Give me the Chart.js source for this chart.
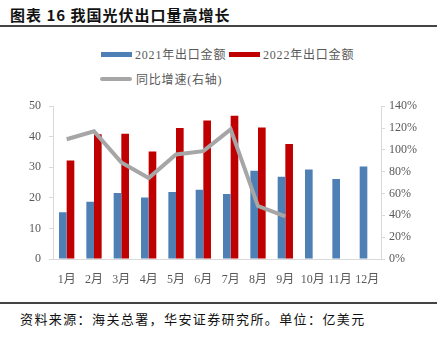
<!DOCTYPE html>
<html>
<head>
<meta charset="utf-8">
<script src="https://cdn.jsdelivr.net/npm/chart.js@4.4.1/dist/chart.umd.min.js"></script>
<style>
  body { margin: 0; width: 437px; height: 338px; background: #fff; position: relative; overflow: hidden;
         font-family: 'Liberation Serif', 'Noto Sans CJK SC', serif; }
  #title { position: absolute; left: 10px; top: 4px; font-size: 15px; font-weight: bold; color: #111;
           font-family: 'Noto Sans CJK SC', sans-serif; letter-spacing: 1px; }
  #topline { position: absolute; left: 0; top: 25px; width: 437px; height: 2px; background: #444; }
  #botline { position: absolute; left: 0; top: 302px; width: 437px; height: 2px; background: #444; }
  #source { position: absolute; left: 20px; top: 309px; font-size: 13px; color: #111; letter-spacing: 1.4px;
            font-family: 'Noto Sans CJK SC', sans-serif; }
  .leg { position: absolute; font-size: 12px; color: #595959; display: flex; align-items: center; letter-spacing: 0.8px; }
  .sw { display: inline-block; width: 31px; height: 5px; margin-right: 3px; }
  .ln { display: inline-block; width: 32px; height: 4px; border-radius: 2px; margin-right: 4px; }
  #wrap { position: absolute; left: 0; top: 91px; width: 437px; height: 199px; }
</style>
</head>
<body>
<div id="title">图表 16 我国光伏出口量高增长</div>
<div id="topline"></div>
<div class="leg" style="left:101px; top:45px;"><span class="sw" style="background:#4E80B6"></span>2021年出口金额</div>
<div class="leg" style="left:229px; top:45px;"><span class="sw" style="background:#C00000"></span>2022年出口金额</div>
<div class="leg" style="left:100px; top:70px;"><span class="ln" style="background:#A6A6A6"></span>同比增速(右轴)</div>
<div id="wrap"><canvas id="chart"></canvas></div>
<div id="botline"></div>
<div id="source">资料来源：海关总署，华安证券研究所。单位：亿美元</div>
<script>
var months = ['1月', '2月', '3月', '4月', '5月', '6月', '7月', '8月', '9月', '10月', '11月', '12月'];
var export2021 = [15.3, 18.7, 21.6, 20.1, 21.9, 22.7, 21.3, 28.9, 26.9, 29.3, 26.2, 30.3];
var export2022 = [32.2, 40.8, 41.0, 35.2, 42.9, 45.3, 46.9, 43.0, 37.6, null, null, null];
var growth = [109.7, 117.0, 88.5, 74.2, 95.8, 98.8, 118.8, 48.5, 39.0, null, null, null];

var tickFont = { family: "'Liberation Serif', 'Noto Sans CJK SC', serif", size: 12 };
var axisGrey = '#D9D9D9';

var ctx = document.getElementById('chart').getContext('2d');
var chart = new Chart(ctx, {
    type: 'bar',
    data: {
        labels: months,
        datasets: [{
            type: 'line',
            label: '同比增速(右轴)',
            data: growth,
            yAxisID: 'y2',
            borderColor: '#A6A6A6',
            borderWidth: 4,
            pointRadius: 0,
            tension: 0,
            fill: false,
            order: 0
        }, {
            label: '2021年出口金额',
            data: export2021,
            backgroundColor: '#4E80B6',
            yAxisID: 'y',
            categoryPercentage: 0.56,
            barPercentage: 1.0,
            order: 1
        }, {
            label: '2022年出口金额',
            data: export2022,
            backgroundColor: '#C00000',
            yAxisID: 'y',
            categoryPercentage: 0.56,
            barPercentage: 1.0,
            order: 1
        }]
    },
    options: {
        responsive: true,
        maintainAspectRatio: false,
        animation: false,
        layout: { padding: { top: 0, left: 0, right: 0, bottom: 0 } },
        plugins: {
            legend: { display: false },
            tooltip: { enabled: false }
        },
        scales: {
            x: {
                grid: { display: false },
                border: { color: axisGrey, width: 1 },
                ticks: { color: '#595959', font: tickFont, padding: 6, maxRotation: 0, autoSkip: false },
                afterFit: function (s) { s.height = 31; }
            },
            y: {
                position: 'left',
                min: 0, max: 50,
                ticks: { stepSize: 10, color: '#595959', font: tickFont, padding: 8 },
                grid: { drawOnChartArea: false, drawTicks: true, tickLength: 4, color: axisGrey },
                border: { color: axisGrey, width: 1 },
                afterFit: function (s) { s.width = 53; }
            },
            y2: {
                position: 'right',
                min: 0, max: 140,
                ticks: {
                    stepSize: 20, color: '#595959', font: tickFont, padding: 4,
                    callback: function (v) { return v + '%'; }
                },
                grid: { drawOnChartArea: false, drawTicks: true, tickLength: 4, color: axisGrey },
                border: { color: axisGrey, width: 1 },
                afterFit: function (s) { s.width = 56; }
            }
        }
    }
});
</script>
</body>
</html>
